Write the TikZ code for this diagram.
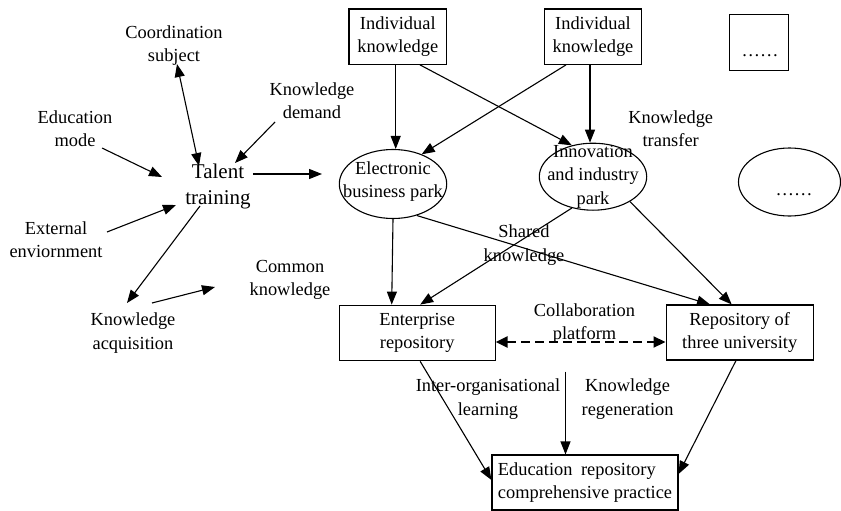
\documentclass[tikz,border=0pt]{standalone}
\usepackage{fontspec}
\setmainfont{Liberation Serif}
\usetikzlibrary{arrows.meta,shapes.geometric,calc}

\begin{document}
\begin{tikzpicture}[x=1pt,y=-1pt,
  every node/.style={font=\fontsize{18.4}{23.4}\selectfont},
  lbl/.style={align=center, inner sep=0pt},
  big/.style={lbl, font=\fontsize{21}{26}\selectfont},
  box/.style={draw, line width=1.1pt, inner sep=0pt, align=center},
  ell/.style={draw, ellipse, line width=1.1pt, inner sep=0pt},
  arr/.style={line width=1.1pt, -{Triangle[length=13pt,width=10pt]}},
  darr/.style={line width=1.1pt, {Triangle[length=13pt,width=10pt]}-{Triangle[length=13pt,width=10pt]}},
  collab/.style={line width=2.2pt, dash pattern=on 9pt off 5pt,
    {Triangle[length=12pt,width=11pt]}-{Triangle[length=12pt,width=11pt]}},
]
\useasboundingbox (0,0) rectangle (841,511);

% ---------- knowledge sources ----------
\node[box, minimum width=97.7, minimum height=55.3] (ik1) at (397.8,36.7) {Individual\\knowledge};
\node[box, minimum width=97.4, minimum height=55.3] (ik2) at (593,36.7) {Individual\\knowledge};
\node[box, minimum width=59, minimum height=55.7] (more) at (758.8,42.8) {};
\node[lbl, anchor=base] (moretxt) at (760,57) {……};

% ---------- parks ----------
\node[ell, minimum width=107.4, minimum height=69] (e1) at (393,184) {};
\node[lbl] (e1t) at (393,181.5) {Electronic\\business park};
\node[ell, minimum width=107.4, minimum height=67] (inn) at (593,176.7) {};
\node[lbl] (innt) at (593,176.7) {Innovation\\and industry\\park};
\node[ell, minimum width=102, minimum height=68] (e3) at (789.5,182) {};
\node[lbl, anchor=base] (e3t) at (794,195) {……};

% ---------- repositories ----------
\node[box, minimum width=155.7, minimum height=55.7] (er) at (417.2,333) {Enterprise\\repository};
\node[box, minimum width=147.3, minimum height=55] (repo) at (739.7,332.5) {Repository of\\three university};
\node[box, minimum width=186, minimum height=55, align=left] (edu) at (585,482.5)
  {Education\hspace{4pt} repository\\comprehensive practice};

% ---------- labels ----------
\node[big] (tt) at (218,186) {Talent\\training};
\node[lbl] (cs) at (174,45.5) {Coordination\\subject};
\node[lbl] (kd) at (312,100.5) {Knowledge\\demand};
\node[lbl] (em) at (75,128.5) {Education\\mode};
\node[lbl] (ee) at (56,240) {External\\enviornment};
\node[lbl] (ka) at (133,333) {Knowledge\\acquisition};
\node[lbl] (ck) at (290,280) {Common\\knowledge};
\node[lbl] (kt) at (670.7,128.5) {Knowledge\\transfer};
\node[lbl] (sk) at (524,245.3) {Shared\\knowledge};
\node[lbl] (cp) at (584.5,323.3) {Collaboration\\platform};
\node[lbl] (iol) at (488,399) {Inter-organisational\\learning};
\node[lbl] (kr) at (627.6,399) {Knowledge\\regeneration};

% ---------- free ends around talent training ----------
\coordinate (csEnd) at (177,64);
\coordinate (ttTop) at (199,166);
\coordinate (kdFrom) at (275,122);
\coordinate (kdTo) at (235,163);
\coordinate (emFrom) at (102,148);
\coordinate (emTo) at (162,177);
\coordinate (eeFrom) at (107,232);
\coordinate (eeTo) at (176,205);
\coordinate (ttLow) at (200,206);
\coordinate (kaTop) at (127,303);
\coordinate (kaRight) at (152,303);
\coordinate (ckTip) at (215,287);
\coordinate (ttOut) at (322,174);
\coordinate (rgFrom) at (565.5,371.7);

% ---------- connectors ----------
\draw[darr] (csEnd) -- (ttTop);
\draw[arr] (kdFrom) -- (kdTo);
\draw[arr] (emFrom) -- (emTo);
\draw[arr] (eeFrom) -- (eeTo);
\draw[arr] (ttLow) -- (kaTop);
\draw[arr] (kaRight) -- (ckTip);
\draw[arr] ([xshift=2,yshift=12]tt.east) -- (ttOut);

\draw[arr] ([xshift=-2.1]ik1.south) -- ([xshift=2.7]e1.north);
\draw[arr] ([xshift=22.2]ik1.south) -- (inn.124);
\draw[arr] ([xshift=-27]ik2.south) -- (e1.46);
\draw[arr] ([xshift=-3]ik2.south) -- ([xshift=-3]inn.north);

\draw[arr] (e1.south) -- ([xshift=-25.5]er.north);
\draw[arr] (e1.-53) -- ([xshift=-29.7]repo.north);
\draw[arr] (inn.-124) -- ([xshift=3]er.north);
\draw[arr] (inn.-34) -- ([xshift=-8]repo.north);

\draw[collab] ([yshift=-9]er.east) -- ([yshift=-9.5]repo.west);

\draw[arr] ([xshift=3]er.south) -- ([yshift=2.5]edu.west);
\draw[arr] ([xshift=-3.7]repo.south) -- ([yshift=8.5]edu.east);
\draw[arr] (rgFrom) -- ([xshift=-19.5]edu.north);
\end{tikzpicture}
\end{document}
